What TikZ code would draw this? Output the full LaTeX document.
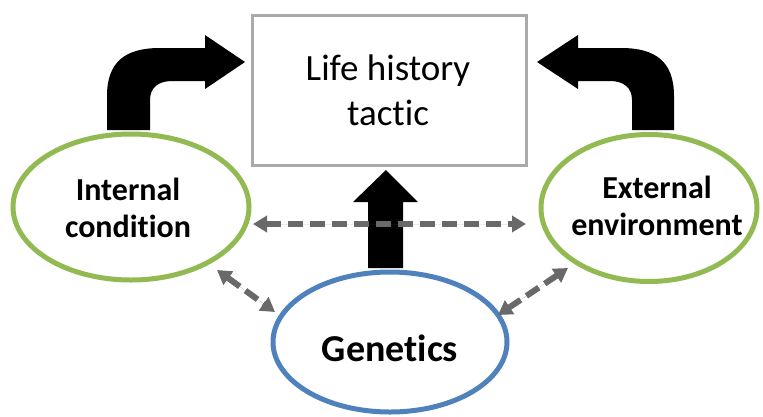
\documentclass[tikz,border=0pt]{standalone}
\usepackage{fontspec}
\setmainfont{Carlito}[Ligatures=NoCommon, RawFeature={-liga;-dlig}]
\usetikzlibrary{shapes.geometric,arrows.meta}
\definecolor{boxgray}{RGB}{170,170,170}
\definecolor{dashgray}{RGB}{105,105,105}
\definecolor{ogreen}{RGB}{145,187,82}
\definecolor{oblue}{RGB}{79,129,189}
\tikzset{
  ell/.style={ellipse, line width=5pt, fill=white, inner sep=0pt},
  greenell/.style={ell, draw=ogreen},
  blueell/.style={ell, draw=oblue},
  lbl/.style={font=\fontsize{32}{37}\selectfont\bfseries, align=center},
  tbox/.style={draw=boxgray, line width=3pt, fill=white, inner sep=0pt},
  dasharrow/.style={draw=dashgray, fill=dashgray, line width=6pt, dash pattern=on 15pt off 7pt,
    {Triangle[length=14pt,width=16pt]}-{Triangle[length=14pt,width=16pt]}}
}
\begin{document}
\begin{tikzpicture}[x=1pt,y=-1pt]
\useasboundingbox (0,0) rectangle (763,416);
% box
\node[tbox, minimum width=274pt, minimum height=150pt] (lht) at (389.5,90) {};
\node[font=\fontsize{37}{45}\selectfont, align=center] (lhttext) at (388,90) {Life history\\tactic};
% ellipses
\node[greenell, minimum width=236pt, minimum height=146pt] (ic) at (131,207) {};
\node[lbl] (ictext) at (128,208) {Internal\\condition};
\node[greenell, minimum width=216pt, minimum height=147pt] (ee) at (649,208) {};
\node[lbl] (eetext) at (657,206) {External\\environment};
\node[blueell, minimum width=234pt, minimum height=140pt] (gen) at (390,342) {};
\node[font=\fontsize{38}{44}\selectfont\bfseries] (gentext) at (390,348) {Genetics};
% black arrows
\fill[black] (107,130) -- (107,96) .. controls (107,62) and (125,48) .. (160,48)
  -- (205,48) -- (205,35) -- (245,62) -- (205,89) -- (205,81) -- (172,81)
  .. controls (158,81) and (150,88) .. (150,100) -- (150,130) -- cycle;
\fill[black] (674,130) -- (674,96) .. controls (674,62) and (656,48) .. (621,48)
  -- (578,48) -- (578,35) -- (537,62) -- (578,89) -- (578,81) -- (610,81)
  .. controls (624,81) and (632,88) .. (632,100) -- (632,130) -- cycle;
\fill[black] (368,268) -- (368,202) -- (353,202) -- (386,170) -- (418,202)
  -- (403,202) -- (403,268) -- cycle;
% dashed arrows
\coordinate (h1) at (253,224);
\coordinate (h2) at (526,224);
\coordinate (d1) at (217,270);
\coordinate (d2) at (275,312);
\coordinate (d3) at (568,268);
\coordinate (d4) at (498,315);
\draw[dasharrow] (h1) -- (h2);
\draw[dasharrow] (d1) -- (d2);
\draw[dasharrow] (d3) -- (d4);
\end{tikzpicture}
\end{document}
